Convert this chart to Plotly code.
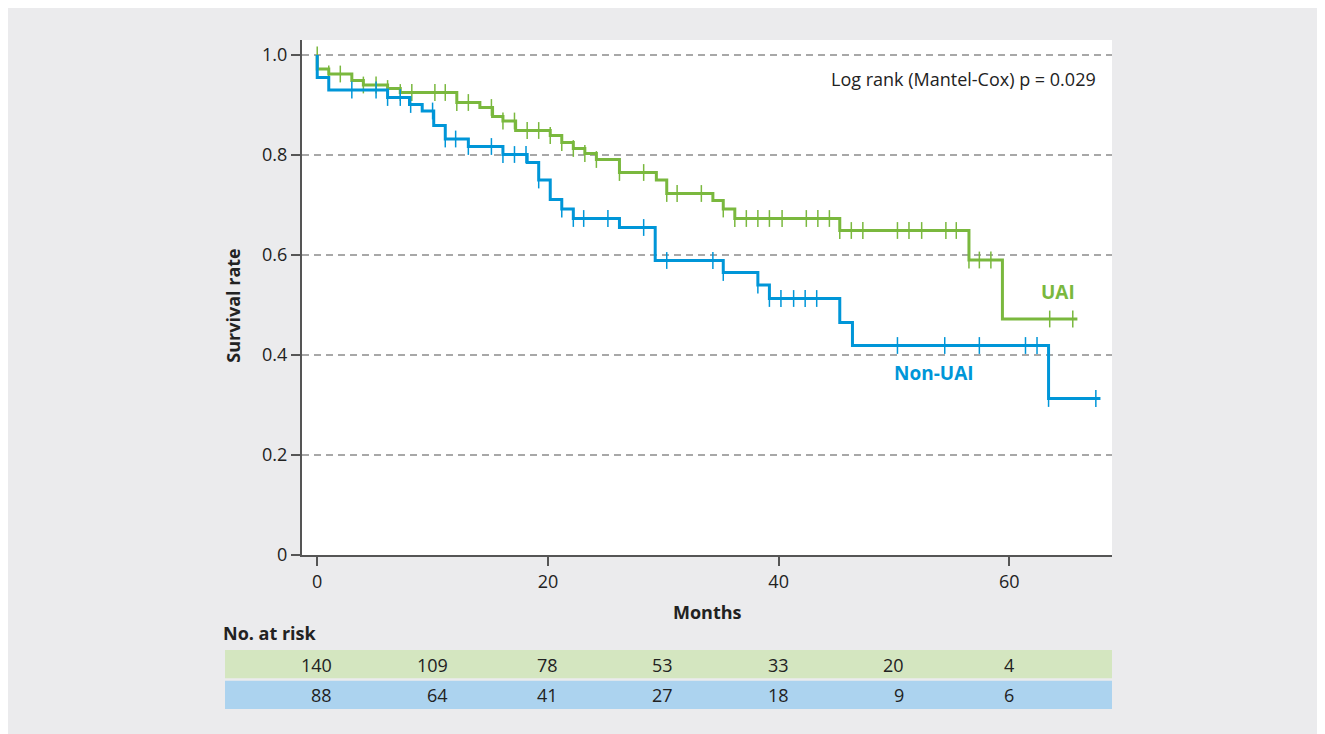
import plotly.graph_objects as go

# ---------------- data ----------------
# UAI group (green) – Kaplan-Meier step times (months) and survival after each step
uai_times = [0, 0, 1.0, 3.0, 4.0, 6.1, 7.2, 12.1, 14.1, 15.2, 16.1, 17.2, 20.2, 21.2,
             22.2, 23.2, 24.2, 26.2, 29.4, 30.3, 34.3, 35.2, 36.2, 45.3, 56.5, 59.4, 65.9]
uai_surv = [1.0, 0.972, 0.962, 0.949, 0.940, 0.933, 0.925, 0.905, 0.895, 0.877, 0.868,
            0.849, 0.839, 0.825, 0.813, 0.803, 0.791, 0.765, 0.750, 0.723, 0.709, 0.692,
            0.673, 0.649, 0.590, 0.472, 0.472]
uai_censor = [0, 1.0, 2.0, 4.0, 5.1, 6.1, 7.2, 8.2, 10.2, 11.1, 12.1, 13.1, 15.1, 16.1,
              17.1, 18.2, 19.2, 20.2, 21.2, 22.2, 23.2, 24.2, 26.2, 28.3, 30.3, 31.2, 33.3,
              35.2, 36.2, 37.2, 38.2, 39.2, 40.3, 42.4, 43.4, 44.4, 45.3, 46.3, 47.3, 50.3,
              51.3, 52.4, 54.5, 55.4, 56.5, 57.4, 58.4, 63.5, 65.5]

# Non-UAI group (blue)
non_times = [0, 0, 1.0, 6.1, 8.0, 9.1, 10.1, 11.1, 13.1, 16.1, 18.2, 19.2, 20.2, 21.2,
             22.2, 26.2, 29.3, 35.2, 38.2, 39.2, 45.3, 46.4, 63.4, 67.9]
non_surv = [1.0, 0.955, 0.930, 0.915, 0.901, 0.888, 0.859, 0.832, 0.817, 0.801, 0.785,
            0.750, 0.711, 0.692, 0.673, 0.655, 0.589, 0.565, 0.540, 0.513, 0.465, 0.419,
            0.313, 0.313]
non_censor = [3.0, 5.1, 6.1, 7.2, 8.1, 10.0, 11.1, 12.0, 13.1, 15.1, 16.1, 17.1, 18.1,
              19.2, 21.2, 22.2, 23.1, 25.2, 28.3, 30.3, 34.3, 35.2, 38.2, 39.2, 40.2, 41.3,
              42.3, 43.3, 50.3, 54.4, 57.4, 61.4, 62.4, 63.4, 67.5]

# Numbers at risk
risk_times = [0, 10, 20, 30, 40, 50, 60]
uai_risk = [140, 109, 78, 53, 33, 20, 4]
non_risk = [88, 64, 41, 27, 18, 9, 6]

x_ticks = [0, 20, 40, 60]
y_ticks = [0, 0.2, 0.4, 0.6, 0.8, 1.0]
y_ticktext = ["0", "0.2", "0.4", "0.6", "0.8", "1.0"]

# ---------------- styling ----------------
GREEN = "#7ab83e"
BLUE = "#0096d8"
GREEN_ROW = "#d4e6c0"
BLUE_ROW = "#acd3ef"
PANEL = "#ebebed"
TXT = "#222222"
AX = "#555555"
FONT = "Open Sans"

def step_value(times, surv, t):
    if t == 0:
        return surv[0]
    v = surv[0]
    for ti, si in zip(times, surv):
        if ti <= t:
            v = si
    return v

fig = go.Figure()

for times, surv, cens, col in [(uai_times, uai_surv, uai_censor, GREEN),
                               (non_times, non_surv, non_censor, BLUE)]:
    fig.add_trace(go.Scatter(x=times, y=surv, mode="lines",
                             line=dict(color=col, width=3, shape="hv"),
                             hoverinfo="skip"))
    fig.add_trace(go.Scatter(x=cens, y=[step_value(times, surv, t) for t in cens],
                             mode="markers",
                             marker=dict(symbol="line-ns", size=12,
                                         line=dict(color=col, width=1.5)),
                             hoverinfo="skip"))

# page offset: the html body has an 8px margin
OFF = 8
FW, FH = 1325 - OFF, 734 - OFF
# plot-area geometry in page px: x 302..1112, y 40..555
L, R, T, B = 302, 1112, 40, 555
W, H = R - L, B - T
def px(xp):
    return (xp - L) / W
def py(yp):
    return (B - yp) / H

shapes = [
    dict(type="rect", xref="paper", yref="paper", x0=px(OFF - 2), x1=px(1340), y0=py(OFF),
         y1=py(760), fillcolor=PANEL, line=dict(width=0), layer="below"),
    dict(type="rect", xref="paper", yref="paper", x0=0, x1=1, y0=0, y1=1,
         fillcolor="white", line=dict(width=0), layer="below"),
    dict(type="rect", xref="paper", yref="paper", x0=px(225), x1=1, y0=py(678.3), y1=py(650),
         fillcolor=GREEN_ROW, line=dict(width=0), layer="below"),
    dict(type="rect", xref="paper", yref="paper", x0=px(225), x1=1, y0=py(709), y1=py(680.7),
         fillcolor=BLUE_ROW, line=dict(width=0), layer="below"),
]

def ann(text, x, y, size, color=TXT, xanchor="center", **kw):
    d = dict(text=text, xref="paper", yref="paper", x=x, y=y, showarrow=False,
             xanchor=xanchor, yanchor="middle", font=dict(size=size, color=color))
    d.update(kw)
    return d

annotations = [
    ann("<b>Survival rate</b>", px(232.7), py(306), 18, textangle=-90),
    ann("<b>Months</b>", 0.5, py(612), 18),
    ann("<b>No. at risk</b>", px(221), py(633), 18, xanchor="left"),
    ann("Log rank (Mantel-Cox) p = 0.029", px(1098), py(79), 18, xanchor="right"),
    dict(text="<b>UAI</b>", xref="x", yref="y", x=64.2, y=0.526, showarrow=False,
         xanchor="center", yanchor="middle", font=dict(size=19, color=GREEN)),
    dict(text="<b>Non-UAI</b>", xref="x", yref="y", x=53.5, y=0.364, showarrow=False,
         xanchor="center", yanchor="middle", font=dict(size=19, color=BLUE)),
]

for t, a, b in zip(risk_times, uai_risk, non_risk):
    shift = len(str(a)) * 5 + 2
    for val, yy in ((a, 665), (b, 695)):
        annotations.append(dict(text=str(val), xref="x", yref="paper", x=t, y=py(yy),
                                xanchor="right", yanchor="middle", xshift=shift,
                                showarrow=False, font=dict(size=18, color=TXT)))

fig.update_layout(
    width=FW, height=FH,
    margin=dict(l=L - OFF, r=1325 - R, t=T - OFF, b=734 - B),
    paper_bgcolor="white", plot_bgcolor="white",
    showlegend=False,
    font=dict(family=FONT, size=16, color=TXT),
    shapes=shapes, annotations=annotations,
    xaxis=dict(range=[-1.32, 68.9], tickvals=x_ticks, ticks="outside", ticklen=9,
               tickwidth=1.5, tickcolor=AX, showline=True, linecolor=AX, linewidth=2,
               showgrid=False, zeroline=False, tickfont=dict(size=18, color=TXT),
               fixedrange=True),
    yaxis=dict(range=[0, 1.03], tickvals=y_ticks, ticktext=y_ticktext, ticks="outside",
               ticklen=9, tickwidth=1.5, tickcolor=AX, showline=True, linecolor=AX,
               linewidth=2, showgrid=True, gridcolor="#a8a8a8", gridwidth=1.5,
               griddash="7px,5px", zeroline=False, tickfont=dict(size=18, color=TXT),
               fixedrange=True),
)

fig.write_html("out.html")
